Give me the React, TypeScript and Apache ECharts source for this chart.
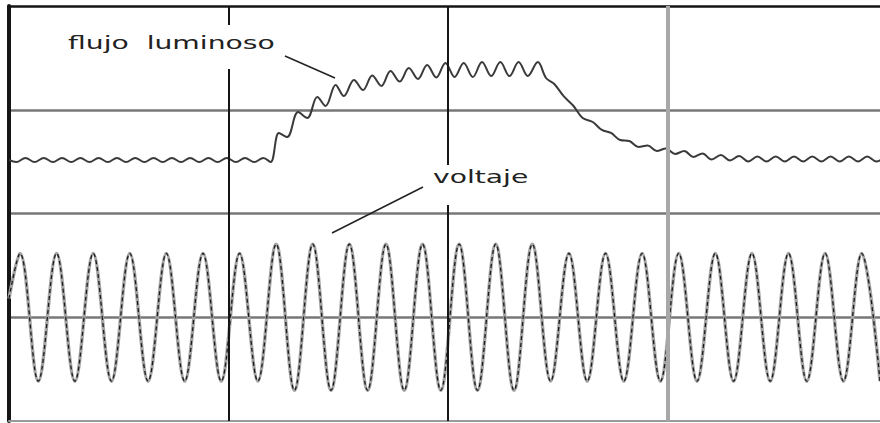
import React, { useEffect, useRef } from "react";
import * as echarts from "echarts";

// time axis in ms (50 Hz mains), one grid division = 120 ms
const timeMax = 476;
const timeStep = 120;
const verticalMarks = [120, 240];
const greyMark = 360;

// voltage (V): alternating peaks and troughs
const voltageTime = [
  0, 6, 16, 26, 36, 46, 56, 66, 76, 86, 96, 106, 116, 126, 136, 146, 156, 166, 176, 186,
  196, 206, 216, 226, 236, 246, 256, 266, 276, 286, 296, 306, 316, 326, 336, 346, 356, 366,
  376, 386, 396, 406, 416, 426, 436, 446, 456, 466, 476,
];
const voltageValue = [
  90, 308, -308, 308, -308, 308, -308, 308, -308, 308, -308, 308, -308, 308, -308, 352, -352,
  352, -352, 352, -352, 352, -352, 352, -352, 352, -352, 352, -352, 352, -308, 308, -308, 308,
  -308, 308, -308, 308, -308, 308, -308, 308, -308, 308, -308, 308, -308, 308, -308,
];

// luminous flux (arbitrary units): ripple extremes
const fluxTime = [
  0, 4, 9, 14, 19, 24, 29, 34, 39, 44, 49, 54, 59, 64, 69, 74, 79, 84, 89, 94, 99, 104, 109,
  114, 119, 124, 129, 134, 139, 143, 147.5, 152, 158, 163, 168.5, 173, 178.5, 183, 188.5, 193.5,
  198.5, 203.5, 208.5, 213.5, 218.5, 223.5, 228.5, 233.5, 238.5, 243.5, 248.5, 253.5, 258.5,
  263.5, 268.5, 273.5, 278.5, 283.5, 289, 293.5, 298, 303, 308.5, 313.5, 319, 324, 329, 334,
  339, 344, 349, 354, 359, 364, 369, 374, 379, 384, 389, 394, 399, 404, 409, 414, 419, 424,
  429, 434, 439, 444, 449, 454, 459, 464, 469, 474, 479,
];
const fluxValue = [
  251.6, 249.6, 253.5, 249.6, 253.5, 249.6, 253.5, 249.6, 253.5, 249.6, 253.5, 249.6, 253.5,
  249.6, 253.5, 249.6, 253.5, 249.6, 253.5, 249.6, 253.5, 249.6, 253.5, 249.6, 253.5, 249.6,
  253.5, 249.6, 253.5, 249.6, 277.6, 273.7, 297.8, 292.1, 312.3, 303.6, 323.9, 313.3, 328.7,
  319.0, 333.0, 322.9, 337.4, 327.2, 340.2, 329.6, 343.1, 331.1, 345.1, 331.6, 345.1, 331.6,
  346.0, 332.5, 346.0, 332.5, 346.0, 332.5, 346.0, 330.6, 324.8, 313.3, 303.6, 292.1, 288.2,
  280.5, 277.6, 270.8, 269.9, 264.1, 265.5, 260.2, 262.7, 257.4, 260.2, 254.5, 257.8, 252.0,
  256.4, 251.1, 255.4, 250.1, 254.9, 250.1, 254.9, 250.1, 254.9, 250.1, 254.9, 250.1, 254.9,
  250.1, 254.9, 250.1, 254.9, 250.1, 254.9,
];

const labelFlux = "flujo  luminoso";
const labelVolt = "voltaje";

export default function App() {
  const ref = useRef<HTMLDivElement>(null);
  useEffect(() => {
    const chart = echarts.init(ref.current!, null, { renderer: "svg" });
    const volt = voltageTime.map((t, i) => [t, voltageValue[i]]);
    const flux = fluxTime.map((t, i) => [t, fluxValue[i]]);
    const hidden = { axisTick: { show: false }, axisLabel: { show: false } };
    chart.setOption({
      animation: false,
      backgroundColor: "#ffffff",
      grid: { left: 9, right: 0, top: 6, bottom: 2, containLabel: false },
      xAxis: [
        {
          type: "value", min: 0, max: timeMax, interval: timeStep, position: "bottom", ...hidden,
          axisLine: { show: true, onZero: false, lineStyle: { color: "#9a9a9a", width: 2 } },
          splitLine: { show: false },
        },
        {
          type: "value", min: 0, max: timeMax, interval: timeStep, position: "top", ...hidden,
          axisLine: { show: true, onZero: false, lineStyle: { color: "#151515", width: 2.5 } },
          splitLine: { show: false },
        },
      ],
      yAxis: [
        {
          type: "value", min: -500, max: 1500, interval: 500, position: "left", ...hidden,
          axisLine: { show: true, onZero: false, lineStyle: { color: "#151515", width: 4 } },
          splitLine: {
            show: true, showMinLine: false, showMaxLine: false,
            lineStyle: { color: "#777777", width: 2.5 },
          },
        },
        { type: "value", min: 0, max: 400, interval: 100, show: false },
      ],
      series: [
        {
          name: "flujo luminoso", type: "line", xAxisIndex: 0, yAxisIndex: 1, data: flux,
          smooth: 0.36, symbol: "none", showSymbol: false,
          lineStyle: { color: "#3a3a3a", width: 2 },
          markLine: {
            silent: true, symbol: ["none", "none"], label: { show: false },
            data: [
              ...verticalMarks.map((v) => ({ xAxis: v, lineStyle: { color: "#151515", width: 2, type: "solid" } })),
              { xAxis: greyMark, lineStyle: { color: "#a8a8a8", width: 4, type: "solid" } },
            ],
          },
        },
        {
          name: "voltaje", type: "line", xAxisIndex: 0, yAxisIndex: 0, data: volt,
          smooth: 0.36, symbol: "none", showSymbol: false,
          lineStyle: { color: "#a4a4a4", width: 3.4 },
        },
        {
          name: "voltaje-trace", type: "line", xAxisIndex: 0, yAxisIndex: 0, data: volt,
          smooth: 0.36, symbol: "none", showSymbol: false,
          lineStyle: { color: "#1c1c1c", width: 1.3, type: [4, 3] },
        },
      ],
      graphic: [
        { type: "rect", z: 100, shape: { x: 222, y: 25, width: 12, height: 44 }, style: { fill: "#ffffff" } },
        { type: "rect", z: 100, shape: { x: 441, y: 165, width: 13, height: 40 }, style: { fill: "#ffffff" } },
        {
          type: "text", z: 101, x: 68, y: 43, scaleX: 1.66,
          style: { text: labelFlux, font: '17px "DejaVu Sans"', fill: "#222222", verticalAlign: "middle" },
        },
        {
          type: "text", z: 101, x: 433, y: 177, scaleX: 1.66,
          style: { text: labelVolt, font: '17px "DejaVu Sans"', fill: "#222222", verticalAlign: "middle" },
        },
        { type: "line", z: 101, shape: { x1: 285, y1: 56, x2: 335, y2: 78 }, style: { stroke: "#222222", lineWidth: 1.5 } },
        { type: "line", z: 101, shape: { x1: 332, y1: 233, x2: 423, y2: 187 }, style: { stroke: "#222222", lineWidth: 1.5 } },
      ],
    });
    return () => chart.dispose();
  }, []);
  return <div ref={ref} style={{ position: "fixed", left: 0, top: 0, width: 880, height: 423 }} />;
}
